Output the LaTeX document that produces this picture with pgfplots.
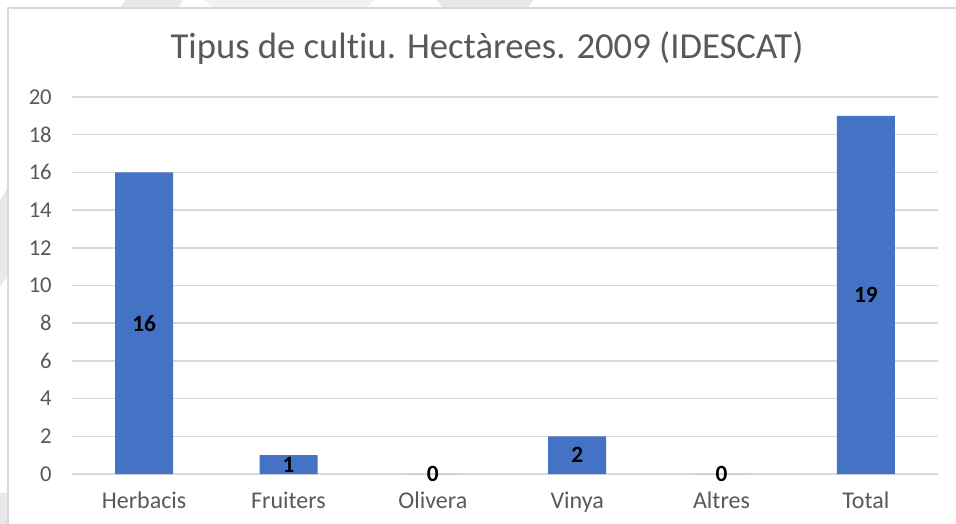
\documentclass[border=0pt]{standalone}
\usepackage{pgfplots}
\pgfplotsset{compat=1.18}
\usepackage{fontspec}
\setmainfont{Carlito}[Ligatures=NoCommon]
\definecolor{barblue}{RGB}{68,114,196}
\definecolor{gridgrey}{RGB}{217,217,217}
\definecolor{txtgrey}{RGB}{89,89,89}
\definecolor{wmA}{RGB}{232,232,232}
\definecolor{wmB}{RGB}{242,242,242}

\begin{document}
\begin{tikzpicture}
% picture laid out in reference pixels: 1px = 0.75pt, y downwards
\begin{scope}[x=0.75pt, y=-0.75pt]
\useasboundingbox (0,0) rectangle (956,524);
% faint watermark stripes behind the chart frame
\fill[wmA] (125,0) -- (183,0) -- (0,287) -- (0,200) -- cycle;
\fill[wmB] (204,0) -- (375,0) -- (352,20) -- (228,20) -- cycle;
\fill[wmA] (436,0) -- (533,0) -- (520,20) -- (455,20) -- cycle;
\fill[wmA] (0,493) -- (30,493) -- (10,524) -- (0,524) -- cycle;
% chart area
\filldraw[fill=white, draw=gridgrey, line width=1.1pt] (8,8) rectangle (1010,560);
\node[font=\fontsize{27.5}{33}\selectfont, text=txtgrey] at (487,48) {Tipus de cultiu. Hectàrees. 2009 (IDESCAT)};
\end{scope}

\begin{axis}[
  at={(54pt,-355.5pt)}, anchor=south west,
  scale only axis, width=649.5pt, height=282.75pt,
  ybar, bar width=43.5pt, bar shift=0pt,
  xmin=-0.5, xmax=5.5, ymin=0, ymax=20,
  xtick=data,
  xticklabels={Herbacis, Fruiters, Olivera, Vinya, Altres, Total},
  ytick={0,2,...,20},
  axis line style={draw=none},
  major tick length=0pt,
  tick style={draw=none},
  ymajorgrids, grid style={gridgrey, line width=1.1pt},
  /pgf/number format/assume math mode=true,
  ticklabel style={text=txtgrey},
  yticklabel style={font=\fontsize{17}{20}\selectfont, inner sep=0pt, xshift=-15pt},
  xticklabel style={font=\fontsize{18}{21}\selectfont, inner sep=0pt, yshift=-13pt},
  visualization depends on=y \as \rawy,
  nodes near coords,
  every node near coord/.append style={font=\bfseries\fontsize{17.5}{20}\selectfont,
    text=black, anchor=center, shift={(axis direction cs:0,-\rawy/2)}},
]
\addplot[fill=barblue, draw=none] coordinates {(0,16) (1,1) (2,0) (3,2) (4,0) (5,19)};
\end{axis}
\end{tikzpicture}
\end{document}
